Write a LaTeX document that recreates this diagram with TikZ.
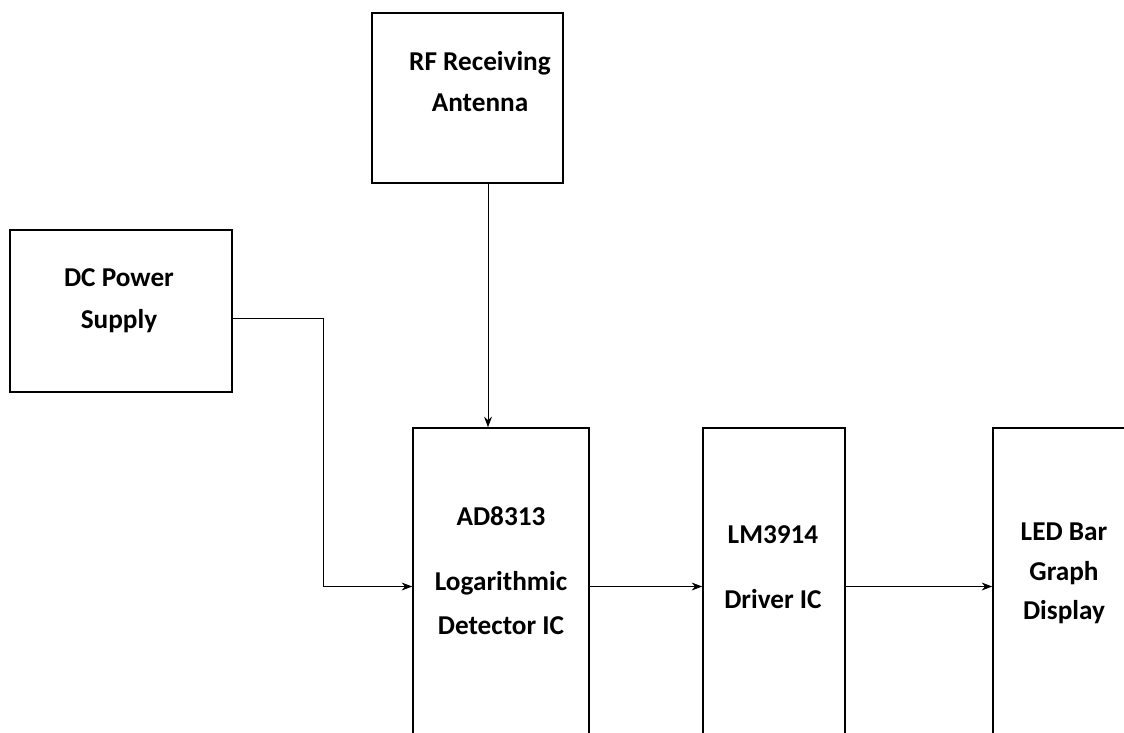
\documentclass[tikz,border=0pt]{standalone}
\usepackage{fontspec}
\setmainfont{Carlito}
\usepackage{xcolor}
\usepackage{tikz}
\usetikzlibrary{arrows.meta}

\tikzset{
  blockbox/.style={draw, line width=0.9pt, inner sep=0pt},
  blocktext/.style={font=\bfseries\fontsize{15.5}{22}\selectfont, align=center, inner sep=0pt},
  flow/.style={->, >={Stealth[length=6pt,width=4.5pt]}, line width=0.5pt}
}

\begin{document}
\begin{tikzpicture}
    \useasboundingbox (0,0) rectangle (22.48,-14.66);
    \clip (0,0) rectangle (22.48,-14.66);
    % blocks
    \node[blockbox, minimum width=3.82cm, minimum height=3.4cm] (rf) at (9.35,-1.96) {};
    \node[blockbox, minimum width=4.44cm, minimum height=3.24cm] (dc) at (2.42,-6.22) {};
    \node[blockbox, minimum width=3.52cm, minimum height=6.34cm] (ad) at (10.02,-11.73) {};
    \node[blockbox, minimum width=2.84cm, minimum height=6.34cm] (lm) at (15.48,-11.73) {};
    \node[blockbox, minimum width=2.9cm, minimum height=6.34cm] (led) at (21.31,-11.73) {};
    % texts
    \node[blocktext] (rftext) at (9.6,-1.63) {RF Receiving\\[1pt]Antenna};
    \node[blocktext] (dctext) at (2.38,-6.02) {DC Power\\[2pt]Supply};
    \node[blocktext] (adtext) at (10.02,-11.42) {AD8313\\[15pt]Logarithmic\\[3pt]Detector IC};
    \node[blocktext] (lmtext) at (15.46,-11.34) {LM3914\\[15pt]Driver IC};
    \node[blocktext] (ledtext) at (21.28,-11.46) {LED Bar\\[1pt]Graph\\Display};
    % connectors
    \draw[flow] ([yshift=-0.14cm]dc.east) -- ++(1.82,0) |- (ad.west);
    \draw[flow] ([xshift=0.41cm]rf.south) -- ([xshift=0.41cm]rf.south |- ad.north);
    \draw[flow] (ad.east) -- (lm.west);
    \draw[flow] (lm.east) -- (led.west);
\end{tikzpicture}
\end{document}
